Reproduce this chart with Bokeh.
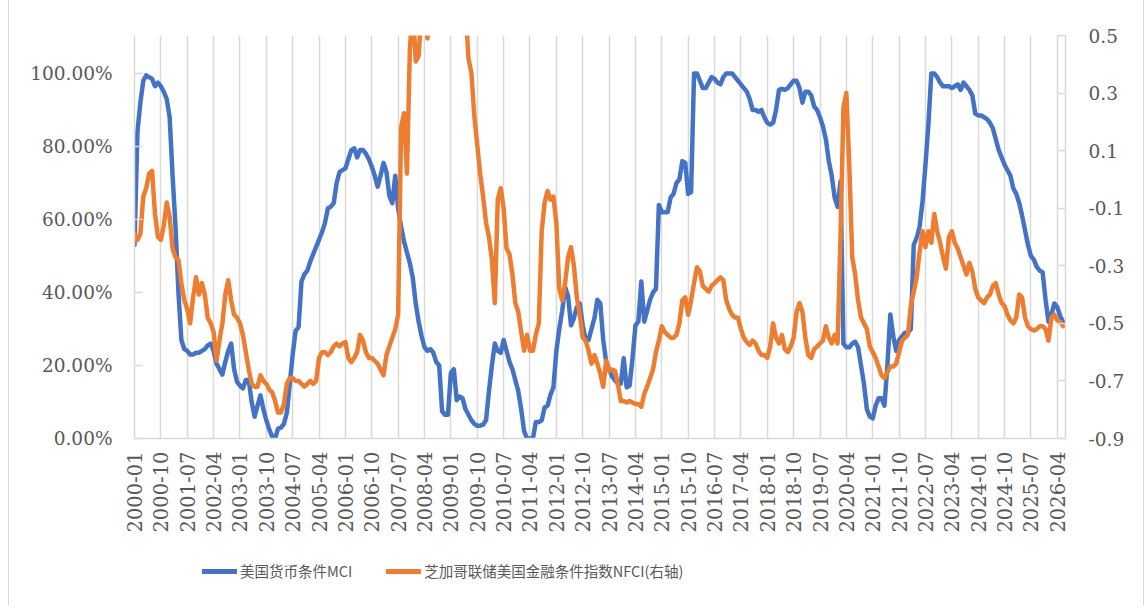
import math
from bokeh.plotting import figure
from bokeh.layouts import column
from bokeh.models import (Range1d, LinearAxis, FixedTicker, Legend, LegendItem,
                          NumeralTickFormatter)
from bokeh.embed import file_html
from bokeh.resources import INLINE

# months 2000-01 .. 2026-06
months = [f"{2000 + i // 12}-{i % 12 + 1:02d}" for i in range(318)]
tick_positions = list(range(0, 316, 9))
tick_labels = [months[i] for i in tick_positions]

# 美国货币条件MCI (percent)
mci = [
    53, 84, 92, 98, 99.5, 99, 98.5, 96.5, 97.5, 96.5,
    95, 93, 88, 72, 58, 40, 27, 24.5, 24, 23,
    23, 23.5, 23.5, 24, 24.5, 25.5, 26, 24, 20.5, 19,
    17.5, 21, 24, 26, 19, 15.5, 14.5, 13.7, 16, 16,
    10, 6, 9, 11.8, 8, 5, 2.5, 0.5, 0, 2.7,
    3, 4, 7, 15, 23, 29.5, 30.5, 43, 45, 46,
    48.5, 50.5, 52.5, 54.5, 56.5, 59, 63, 63.5, 64.5, 70,
    73, 73.5, 74, 76.5, 79, 79.5, 77, 79, 79, 78,
    76.5, 74.5, 72, 69, 72, 75.5, 73, 66.5, 64.5, 72,
    63, 58, 54, 51, 48, 44, 37, 32, 28, 25,
    24, 24.5, 23.5, 21, 20, 7.5, 6.5, 6.5, 18, 19,
    10.5, 11.5, 11, 8, 6.5, 5, 4, 3.5, 3.5, 3.8,
    5, 13, 20, 26, 24, 23.5, 27, 24, 21, 19,
    16, 13, 8, 2, 0, 0, 0, 4.5, 4.5, 5,
    8.5, 9, 12, 14, 24, 30, 35, 41.5, 39, 31,
    33, 36, 37, 31, 27, 27, 30, 33, 38, 37,
    27, 21, 19, 17, 16, 15, 15, 22, 14, 14.5,
    22, 31, 32, 43, 32, 35, 38, 40, 41, 64,
    62, 62, 62, 66, 67, 70, 71, 76, 75.5, 67,
    67.5, 100, 100, 98, 96, 96, 97.5, 99, 98.5, 97.5,
    97, 99, 100, 100, 100, 99, 98, 97, 96, 95,
    93, 90, 90, 89.5, 90, 88, 86.5, 86, 86.5, 90,
    95.5, 95.8, 95.5, 96, 97, 98, 98, 96, 92, 95,
    95, 94, 91, 90, 88, 85.5, 82, 76, 72, 66,
    63.5, 70.5, 26, 25, 25, 26, 26.5, 25, 20, 15,
    8, 6, 5.5, 9, 11, 11, 9, 20, 34, 28,
    24, 27, 28, 29, 29, 30, 53, 55, 58, 65,
    75, 86, 100, 100, 99, 97.5, 96.5, 96.5, 96.5, 96,
    96.5, 97, 95.5, 97.5, 96.5, 95.5, 94, 89, 88.5, 88.5,
    88, 87.5, 86.5, 85, 82, 79, 77, 75, 73.5, 72,
    68.5, 67, 64.5, 61, 57, 53, 50, 49, 47, 46,
    45.5, 38, 32, 34, 37, 36, 33.5, 32,
]

# 芝加哥联储美国金融条件指数NFCI (right axis)
nfci = [
    -0.19, -0.21, -0.19, -0.06, -0.03, 0.02, 0.03, -0.12, -0.2, -0.21,
    -0.16, -0.08, -0.13, -0.24, -0.27, -0.28, -0.36, -0.42, -0.45, -0.5,
    -0.41, -0.34, -0.4, -0.36, -0.4, -0.48, -0.5, -0.53, -0.63, -0.56,
    -0.5, -0.4, -0.35, -0.42, -0.47, -0.48, -0.5, -0.54, -0.6, -0.66,
    -0.71, -0.72, -0.72, -0.68, -0.7, -0.71, -0.73, -0.74, -0.77, -0.81,
    -0.81, -0.78, -0.71, -0.69, -0.69, -0.70, -0.70, -0.71, -0.72, -0.71,
    -0.70, -0.71, -0.70, -0.62, -0.60, -0.60, -0.61, -0.60, -0.58, -0.57,
    -0.58, -0.57, -0.565, -0.62, -0.635, -0.62, -0.60, -0.54, -0.56, -0.60,
    -0.62, -0.62, -0.63, -0.64, -0.66, -0.68, -0.61, -0.58, -0.55, -0.52,
    -0.47, 0.18, 0.23, 0.02, 0.45, 0.6, 0.41, 0.43, 0.6, 0.7,
    0.49, 0.8, 1.0, 1.4, 2.0, 2.4, 2.2, 1.9, 1.6, 1.3,
    1.1, 0.9, 0.75, 0.6, 0.42, 0.37, 0.22, 0.12, 0.02, -0.06,
    -0.15, -0.2, -0.28, -0.43, -0.07, -0.03, -0.1, -0.24, -0.26, -0.33,
    -0.43, -0.46, -0.53, -0.595, -0.54, -0.595, -0.595, -0.54, -0.5, -0.18,
    -0.08, -0.04, -0.07, -0.06, -0.15, -0.38, -0.42, -0.36, -0.27, -0.235,
    -0.3, -0.41, -0.47, -0.55, -0.56, -0.595, -0.64, -0.61, -0.64, -0.675,
    -0.72, -0.63, -0.665, -0.66, -0.665, -0.71, -0.77, -0.77, -0.775, -0.77,
    -0.775, -0.78, -0.78, -0.79, -0.745, -0.72, -0.69, -0.66, -0.6, -0.56,
    -0.51, -0.53, -0.54, -0.55, -0.55, -0.54, -0.50, -0.42, -0.41, -0.47,
    -0.42, -0.36, -0.305, -0.32, -0.37, -0.38, -0.39, -0.37, -0.36, -0.35,
    -0.34, -0.35, -0.42, -0.45, -0.47, -0.48, -0.48, -0.52, -0.55, -0.565,
    -0.575, -0.56, -0.57, -0.595, -0.61, -0.61, -0.62, -0.58, -0.5, -0.55,
    -0.57, -0.54, -0.59, -0.6, -0.58, -0.55, -0.46, -0.43, -0.46, -0.55,
    -0.61, -0.62, -0.59, -0.58, -0.57, -0.56, -0.51, -0.55, -0.57, -0.54,
    -0.57, -0.2, 0.25, 0.30, 0.05, -0.27, -0.33, -0.42, -0.48, -0.50,
    -0.52, -0.58, -0.60, -0.62, -0.65, -0.68, -0.69, -0.67, -0.65, -0.65,
    -0.64, -0.6, -0.56, -0.55, -0.54, -0.44, -0.39, -0.34, -0.25, -0.18,
    -0.235, -0.18, -0.22, -0.12, -0.18, -0.22, -0.27, -0.31, -0.2, -0.18,
    -0.22, -0.24, -0.27, -0.3, -0.33, -0.29, -0.32, -0.38, -0.41, -0.42,
    -0.43, -0.41, -0.40, -0.37, -0.36, -0.40, -0.43, -0.44, -0.47, -0.49,
    -0.50, -0.48, -0.40, -0.41, -0.48, -0.51, -0.52, -0.525, -0.52, -0.51,
    -0.51, -0.52, -0.56, -0.48, -0.47, -0.49, -0.495, -0.51,
]

series_names = ["美国货币条件MCI", "芝加哥联储美国金融条件指数NFCI(右轴)"]
left_ticks = [0, 0.2, 0.4, 0.6, 0.8, 1.0]
right_ticks = [-0.9, -0.7, -0.5, -0.3, -0.1, 0.1, 0.3, 0.5]

x = list(range(len(months)))
mci_frac = [v / 100.0 for v in mci]

GRID = "#D9D9D9"
TXT = "#595959"
BLUE = "#4472C4"
ORANGE = "#ED7D31"
NUM_FONT = "DejaVu Serif"
W = 1134

p = figure(width=W, height=545, output_backend="svg", toolbar_location=None,
           x_range=Range1d(0, 317.8), y_range=Range1d(0, 1.104),
           min_border_left=125, min_border_right=78, min_border_top=35,
           min_border_bottom=107)
p.extra_y_ranges = {"nfci": Range1d(-0.9, 0.5)}
p.outline_line_color = None

# x axis
xt = FixedTicker(ticks=tick_positions)
p.xaxis.ticker = xt
p.xaxis.major_label_overrides = {i: lab for i, lab in zip(tick_positions, tick_labels)}
p.xaxis.major_label_orientation = math.pi / 2
p.xaxis.axis_line_color = GRID
p.xaxis.axis_line_width = 1.5
p.xaxis.major_tick_line_color = None
p.xaxis.minor_tick_line_color = None
p.xaxis.major_label_standoff = 7
p.xaxis.major_label_text_font = NUM_FONT
p.xaxis.major_label_text_font_size = "19.5px"
p.xaxis.major_label_text_color = TXT

p.xgrid.ticker = xt
p.xgrid.grid_line_color = GRID
p.xgrid.grid_line_width = 1.5
p.ygrid.grid_line_color = None

# left axis
ly = p.yaxis[0]
ly.ticker = FixedTicker(ticks=left_ticks)
ly.formatter = NumeralTickFormatter(format="0.00%")
ly.axis_line_color = GRID
ly.axis_line_width = 1.5
ly.major_tick_line_color = GRID
ly.major_tick_line_width = 1.5
ly.major_tick_in = 8
ly.major_tick_out = 0
ly.minor_tick_line_color = None
ly.major_label_standoff = 22
ly.major_label_text_font = NUM_FONT
ly.major_label_text_font_size = "18.5px"
ly.major_label_text_color = TXT

# right axis
ry = LinearAxis(y_range_name="nfci", ticker=FixedTicker(ticks=right_ticks),
                formatter=NumeralTickFormatter(format="0.0"))
ry.axis_line_color = GRID
ry.axis_line_width = 1.5
ry.major_tick_line_color = GRID
ry.major_tick_line_width = 1.5
ry.major_tick_in = 8
ry.major_tick_out = 0
ry.minor_tick_line_color = None
ry.major_label_standoff = 23
ry.major_label_text_font = NUM_FONT
ry.major_label_text_font_size = "18.5px"
ry.major_label_text_color = TXT
p.add_layout(ry, "right")

p.line(x, mci_frac, line_color=BLUE, line_width=4.5, line_join="round", line_cap="round")
p.line(x, nfci, y_range_name="nfci", line_color=ORANGE, line_width=4.5,
       line_join="round", line_cap="round")

# legend strip below the chart (series drawn out of view, only legend samples show)
q = figure(width=W, height=60, output_backend="svg", toolbar_location=None,
           x_axis_type=None, y_axis_type=None, min_border=0,
           x_range=Range1d(0, 1), y_range=Range1d(50, 51))
q.outline_line_color = None
q.xgrid.grid_line_color = None
q.ygrid.grid_line_color = None
g1 = q.line(x, mci_frac, line_color=BLUE, line_width=5, line_cap="round")
g2 = q.line(x, nfci, line_color=ORANGE, line_width=5, line_cap="round")
legend = Legend(items=[LegendItem(label=series_names[0], renderers=[g1]),
                       LegendItem(label=series_names[1], renderers=[g2])],
                orientation="horizontal", location=(68, 24),
                label_text_font="Noto Sans CJK SC", label_text_font_size="14.5px",
                label_text_color=TXT, glyph_width=35, glyph_height=20,
                label_standoff=3, spacing=34, padding=5, margin=0,
                border_line_color=None, background_fill_alpha=0)
q.add_layout(legend, "center")

layout = column(p, q, spacing=0)
layout.styles = {"margin-left": "8px", "border-left": "1px solid #D9D9D9",
                 "border-right": "1px solid #D9D9D9"}
open("out.html", "w").write(file_html(layout, INLINE))
